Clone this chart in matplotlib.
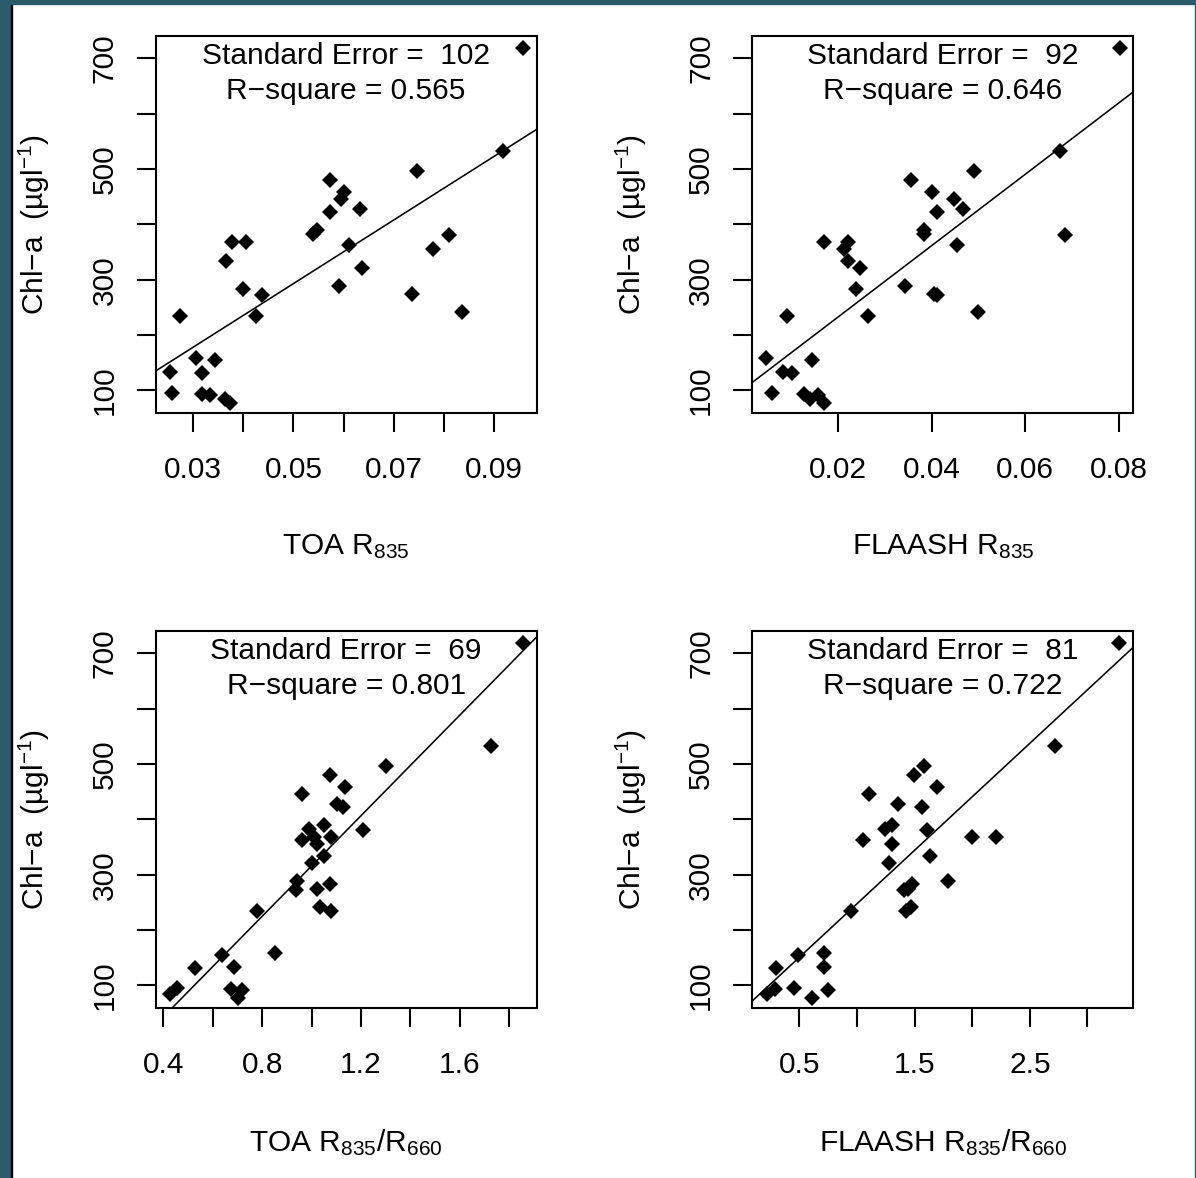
import matplotlib
matplotlib.use("Agg")
import matplotlib.pyplot as plt
from matplotlib.patches import Rectangle
import numpy as np

plt.rcParams['font.family'] = ['Liberation Sans', 'DejaVu Sans']
plt.rcParams['mathtext.default'] = 'regular'
plt.rcParams['mathtext.fontset'] = 'custom'
plt.rcParams['mathtext.rm'] = 'Liberation Sans'

# Chl-a (ug/l) shared by all four panels
chl = [719, 533, 497, 481, 458, 446, 427, 422, 390, 382, 381, 368, 368, 362, 355,
       334, 322, 289, 283, 275, 273, 241, 234, 234, 159, 154, 134, 131, 95, 94, 92, 84, 78]

toa_r835 = [0.0957, 0.0918, 0.0746, 0.0573, 0.0600, 0.0594, 0.0633, 0.0573, 0.0546, 0.0539,
            0.0810, 0.0377, 0.0406, 0.0611, 0.0779, 0.0365, 0.0637, 0.0590, 0.0399, 0.0736,
            0.0437, 0.0836, 0.0426, 0.0273, 0.0306, 0.0344, 0.0254, 0.0318, 0.0257, 0.0318,
            0.0334, 0.0363, 0.0374]

flaash_r835 = [0.0802, 0.0673, 0.0491, 0.0356, 0.0400, 0.0448, 0.0467, 0.0412, 0.0383, 0.0383,
               0.0685, 0.0171, 0.0221, 0.0454, 0.0213, 0.0221, 0.0248, 0.0344, 0.0238, 0.0405,
               0.0412, 0.0498, 0.0265, 0.0092, 0.0046, 0.0144, 0.0082, 0.0102, 0.0059, 0.0127,
               0.0158, 0.0140, 0.0171]

toa_ratio = [1.854, 1.726, 1.303, 1.074, 1.137, 0.962, 1.102, 1.128, 1.049, 0.988,
             1.207, 1.008, 1.078, 0.962, 1.024, 1.052, 1.000, 0.943, 1.074, 1.021,
             0.939, 1.036, 1.080, 0.779, 0.853, 0.636, 0.686, 0.527, 0.457, 0.675,
             0.717, 0.426, 0.704]

flaash_ratio = [3.270, 2.716, 1.578, 1.493, 1.691, 1.100, 1.358, 1.562, 1.308, 1.242,
                1.611, 2.001, 2.208, 1.051, 1.308, 1.631, 1.275, 1.786, 1.480, 1.446,
                1.407, 1.466, 0.952, 1.423, 0.714, 0.484, 0.714, 0.300, 0.457, 0.286,
                0.747, 0.220, 0.609]

# fitted lines (intercept, slope)
fit_intercepts = [5.5, 103.1, -139.3, 54.2]
fit_slopes = [5749.0, 6459.0, 454.9, 193.3]

std_errors = ['102', '92', '69', '81']
r_squares = ['0.565', '0.646', '0.801', '0.722']

x_labels = ['TOA R$_{835}$', 'FLAASH R$_{835}$',
            'TOA R$_{835}$/R$_{660}$', 'FLAASH R$_{835}$/R$_{660}$']
y_label = 'Chl\u2212a  (\u00b5gl$^{-1}$)'

x_series = [toa_r835, flaash_r835, toa_ratio, flaash_ratio]
x_limits = [(0.02249, 0.0985), (0.00174, 0.08308), (0.369, 1.9106), (0.091, 3.40)]
x_ticks = [[0.03, 0.04, 0.05, 0.06, 0.07, 0.08, 0.09],
           [0.02, 0.04, 0.06, 0.08],
           [0.4, 0.6, 0.8, 1.0, 1.2, 1.4, 1.6, 1.8],
           [0.5, 1.0, 1.5, 2.0, 2.5, 3.0]]
x_ticklabels = [['0.03', '', '0.05', '', '0.07', '', '0.09'],
                ['0.02', '0.04', '0.06', '0.08'],
                ['0.4', '', '0.8', '', '1.2', '', '1.6', ''],
                ['0.5', '', '1.5', '', '2.5', '']]
y_ticks = [100, 200, 300, 400, 500, 600, 700]
y_ticklabels = ['100', '', '300', '', '500', '', '700']
y_limits = (58.5, 741)

W, H = 1196, 1178
fig = plt.figure(figsize=(W / 100, H / 100), dpi=100)
fig.patch.set_facecolor('white')

# frame strips of the screenshot
border = '#2b5a6b'
fig.patches.append(Rectangle((0, 0), 11 / W, 1, transform=fig.transFigure, color=border, zorder=-10))
fig.patches.append(Rectangle((11 / W, 0), 1.2 / W, 1, transform=fig.transFigure, color='black', zorder=-10))
fig.patches.append(Rectangle((0, 1 - 4 / H), 1, 4 / H, transform=fig.transFigure, color=border, zorder=-10))
fig.patches.append(Rectangle((1 - 1.5 / W, 0), 1.5 / W, 1, transform=fig.transFigure, color=border, zorder=-10))

lefts = [155.5, 752.3, 155.5, 752.3]
tops = [35.7, 35.7, 630.7, 630.7]
aw, ah = 381.2, 377.6

fs = 21.5
for i in range(4):
    ax = fig.add_axes([lefts[i] / W, 1 - (tops[i] + ah) / H, aw / W, ah / H])
    ax.plot(x_series[i], chl, linestyle='none', marker='D', markersize=7.8,
            markerfacecolor='black', markeredgewidth=0, color='black')
    ax.axline((0, fit_intercepts[i]), slope=fit_slopes[i], color='black', linewidth=1.15)
    ax.set_xlim(*x_limits[i])
    ax.set_ylim(*y_limits)
    ax.set_xticks(x_ticks[i])
    ax.set_xticklabels(x_ticklabels[i])
    ax.set_yticks(y_ticks)
    ax.set_yticklabels(y_ticklabels, rotation=90, va='center')
    ax.tick_params(axis='both', direction='out', length=13.7, width=1.5,
                   labelsize=fs, color='black')
    ax.tick_params(axis='x', pad=17)
    ax.tick_params(axis='y', pad=13)
    for s in ax.spines.values():
        s.set_linewidth(1.5)
    ax.text(0.5, 0.946, 'Standard Error =  ' + std_errors[i], transform=ax.transAxes,
            ha='center', va='center', fontsize=fs)
    ax.text(0.5, 0.853, 'R\u2212square = ' + r_squares[i], transform=ax.transAxes,
            ha='center', va='center', fontsize=fs)
    ax.set_xlabel(x_labels[i], fontsize=fs)
    ax.xaxis.set_label_coords(0.5, -0.314)
    ax.set_ylabel(y_label, fontsize=fs)
    ax.yaxis.set_label_coords(-0.272, 0.5)

fig.savefig('out.png', dpi=100)
